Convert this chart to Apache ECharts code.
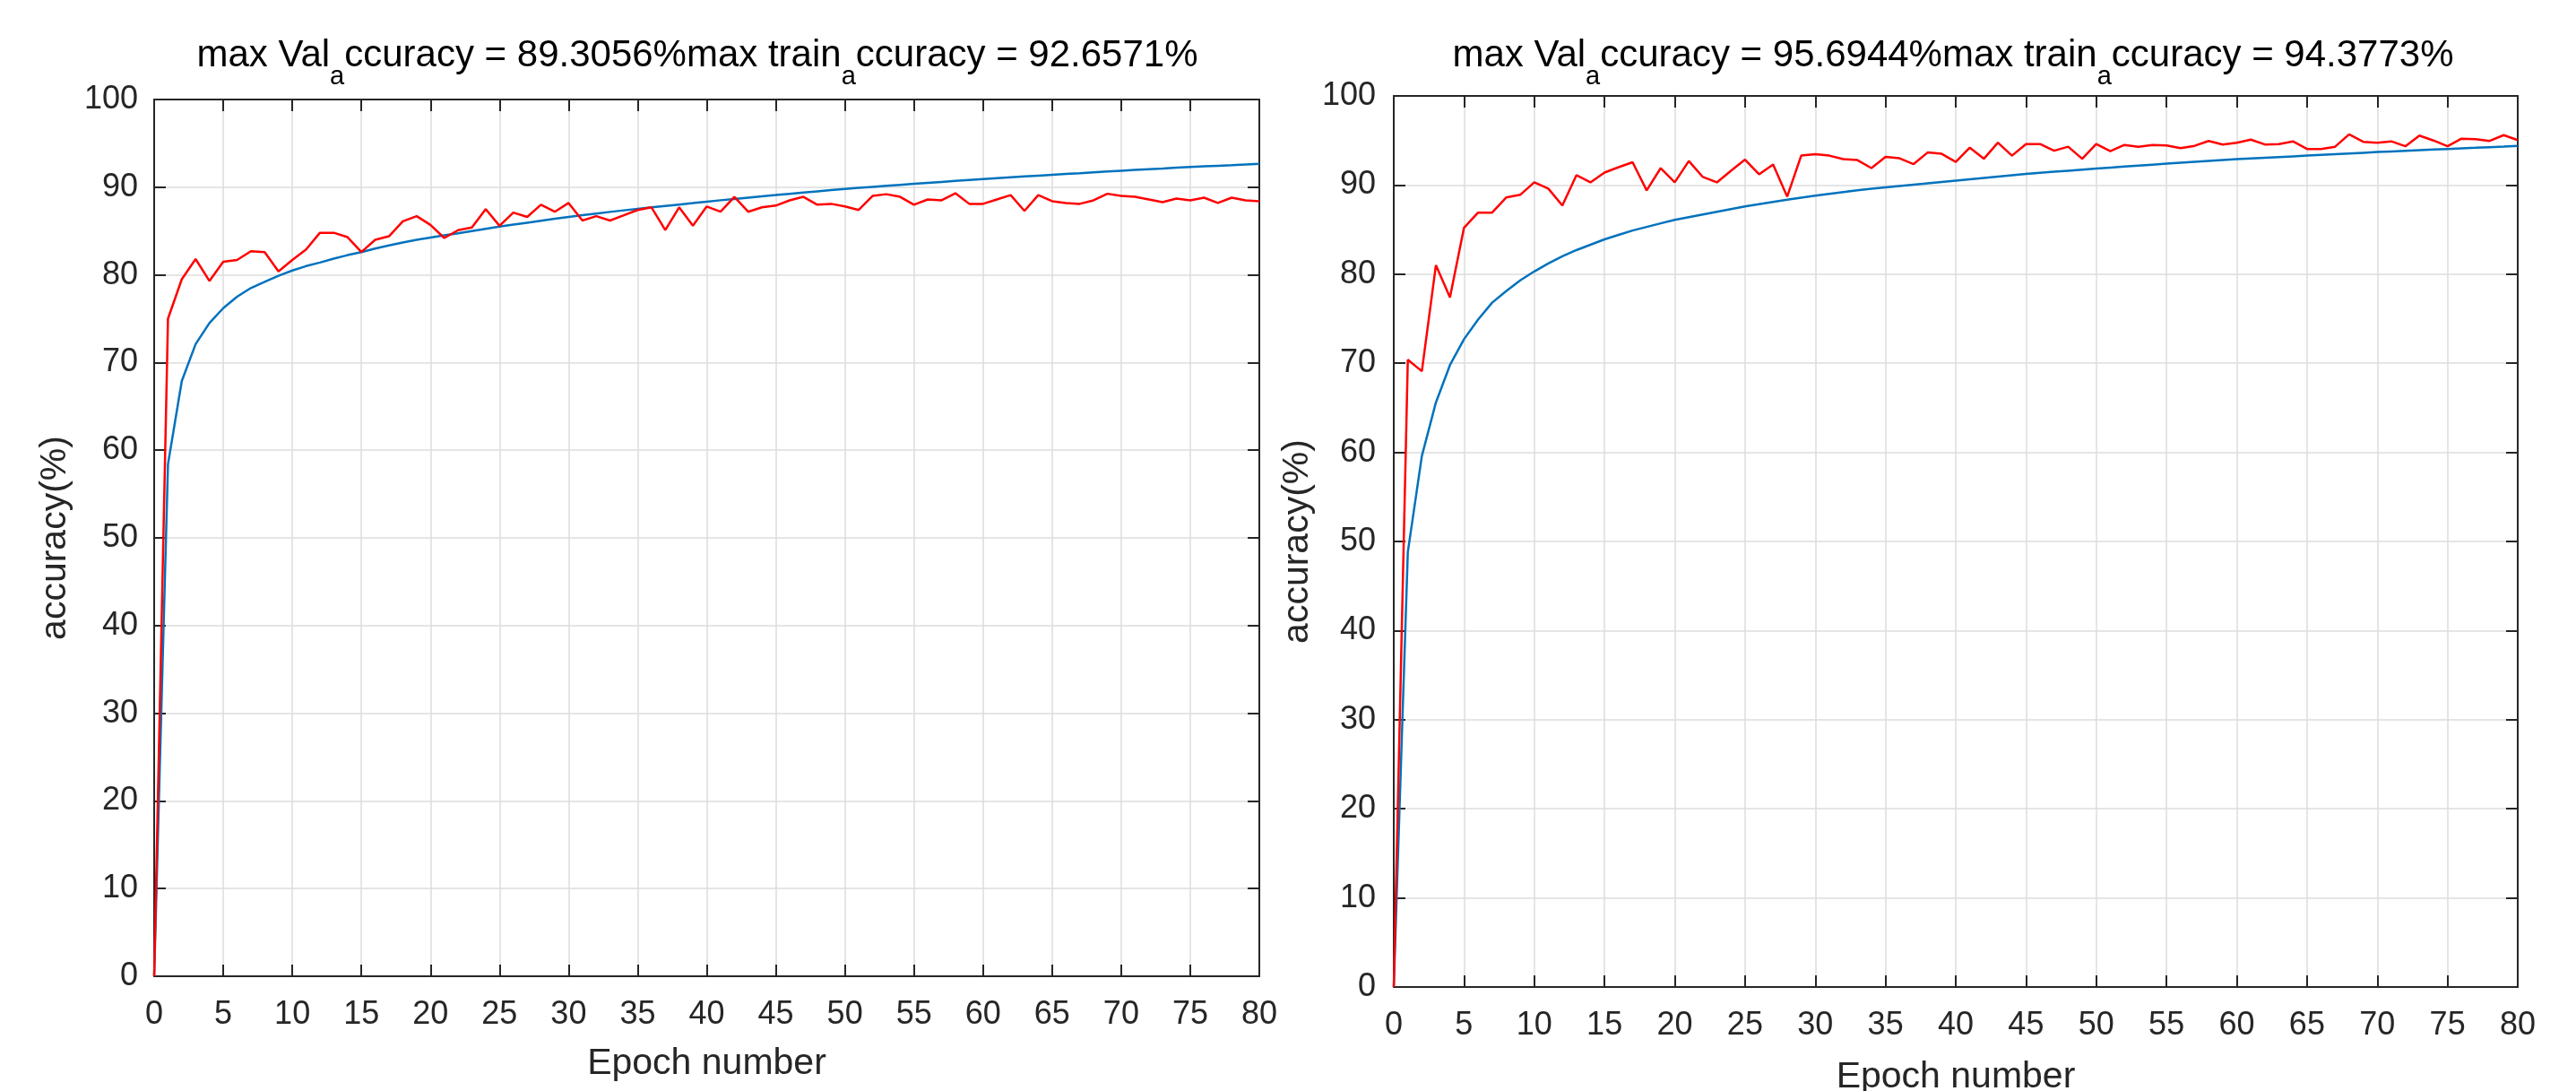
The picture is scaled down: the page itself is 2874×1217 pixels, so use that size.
<!DOCTYPE html>
<html>
<head>
<meta charset="utf-8">
<script src="https://cdn.jsdelivr.net/npm/echarts@6/dist/echarts.min.js"></script>
<style>
html,body{margin:0;padding:0;background:#fff;}
#chart{width:2874px;height:1217px;}
</style>
</head>
<body>
<div id="chart"></div>
<script>
// ---- data ----
const epochs = [0,1,2,3,4,5,6,7,8,9,10,11,12,13,14,15,16,17,18,19,20,21,22,23,24,25,26,27,28,29,30,31,32,33,34,35,36,37,38,39,40,41,42,43,44,45,46,47,48,49,50,51,52,53,54,55,56,57,58,59,60,61,62,63,64,65,66,67,68,69,70,71,72,73,74,75,76,77,78,79,80];

const leftVal = [0,75.0,79.5,81.8,79.3,81.5,81.7,82.7,82.6,80.4,81.7,82.9,84.8,84.8,84.3,82.6,84.0,84.4,86.1,86.7,85.7,84.2,85.1,85.4,87.5,85.6,87.1,86.6,88.0,87.2,88.2,86.2,86.7,86.2,86.8,87.4,87.7,85.1,87.7,85.6,87.8,87.2,88.9,87.2,87.7,87.9,88.5,88.9,88.0,88.1,87.8,87.4,89.0,89.2,88.9,88.0,88.6,88.5,89.31,88.1,88.1,88.6,89.1,87.3,89.1,88.4,88.2,88.1,88.5,89.25,89.0,88.9,88.6,88.3,88.7,88.5,88.8,88.2,88.8,88.5,88.4];

const leftTrain = [0,58.4,67.9,72.1,74.5,76.2,77.5,78.5,79.2,79.9,80.5,81.0,81.4,81.85,82.25,82.6,83.0,83.35,83.7,84.0,84.25,84.5,84.75,85.0,85.25,85.5,85.73,85.95,86.17,86.39,86.6,86.8,87.0,87.18,87.36,87.53,87.7,87.86,88.02,88.18,88.35,88.51,88.66,88.81,88.96,89.1,89.25,89.39,89.53,89.67,89.8,89.92,90.04,90.16,90.27,90.38,90.49,90.6,90.71,90.82,90.92,91.02,91.12,91.22,91.32,91.42,91.51,91.6,91.7,91.79,91.88,91.97,92.05,92.13,92.22,92.3,92.37,92.44,92.51,92.59,92.66];

const rightVal = [0,70.4,69.1,81.0,77.4,85.2,86.9,86.9,88.6,88.9,90.3,89.6,87.7,91.1,90.3,91.4,92.0,92.55,89.4,91.9,90.3,92.7,90.9,90.3,91.6,92.85,91.2,92.3,88.7,93.3,93.45,93.3,92.9,92.8,91.9,93.15,93.0,92.35,93.65,93.5,92.6,94.2,92.95,94.75,93.3,94.6,94.6,93.85,94.3,92.95,94.6,93.8,94.5,94.3,94.5,94.45,94.15,94.4,94.95,94.55,94.75,95.1,94.55,94.6,94.9,94.05,94.05,94.3,95.69,94.85,94.75,94.9,94.35,95.55,95.0,94.35,95.2,95.15,94.95,95.6,95.05];

const rightTrain = [0,48.8,59.6,65.6,69.8,72.7,74.9,76.8,78.1,79.3,80.3,81.2,82.0,82.7,83.3,83.9,84.4,84.9,85.3,85.7,86.1,86.4,86.7,87.0,87.3,87.6,87.85,88.1,88.35,88.58,88.8,89.0,89.2,89.4,89.58,89.75,89.9,90.05,90.2,90.35,90.5,90.65,90.8,90.95,91.1,91.25,91.37,91.49,91.61,91.73,91.85,91.96,92.07,92.18,92.29,92.4,92.5,92.6,92.7,92.8,92.9,92.98,93.06,93.14,93.22,93.3,93.38,93.46,93.54,93.62,93.7,93.77,93.84,93.91,93.98,94.05,94.12,94.18,94.25,94.31,94.38];

const leftTitle = ['max Val', 'a', 'ccuracy = 89.3056%max train', 'a', 'ccuracy = 92.6571%'];
const rightTitle = ['max Val', 'a', 'ccuracy = 95.6944%max train', 'a', 'ccuracy = 94.3773%'];
const xName = 'Epoch number';
const yName = 'accuracy(%)';

// ---- styling ----
const FONT = "'Liberation Sans', Arial, Helvetica, sans-serif";
const AX = '#262626';
const RED = '#ff0000';
const BLUE = '#0072bd';

function pairs(xs, ys){ return xs.map((x,i)=>[x, ys[i]]); }
function titleText(parts){
  return '{m|' + parts[0] + '}{s|' + parts[1] + '}{m|' + parts[2] + '}{s|' + parts[3] + '}{m|' + parts[4] + '}';
}
const richTitle = {
  m: {fontSize: 42, fontWeight: 'normal', fontFamily: FONT, color: '#000', lineHeight: 48, verticalAlign: 'top'},
  s: {fontSize: 29, fontWeight: 'normal', fontFamily: FONT, color: '#000', lineHeight: 29, verticalAlign: 'top', padding: [30, 0, 0, 0]}
};

const grids = [
  {left: 172, top: 111, width: 1233, height: 978, outerBoundsMode: 'none', containLabel: false},
  {left: 1555, top: 107, width: 1254, height: 994, outerBoundsMode: 'none', containLabel: false}
];
const cfg = [
  {xLabelMargin: 25, yLabelMargin: 18, xNameGap: 77, yNameGap: 90},
  {xLabelMargin: 25, yLabelMargin: 20, xNameGap: 80, yNameGap: 87}
];

const xAxes = [], yAxes = [];
grids.forEach((g, gi) => {
  const c = cfg[gi];
  const common = {type: 'value', gridIndex: gi, min: 0, max: 80, interval: 5};
  xAxes.push(Object.assign({}, common, {
    position: 'bottom',
    name: xName, nameLocation: 'middle', nameGap: c.xNameGap, nameMoveOverlap: false,
    nameTextStyle: {fontSize: 41, fontFamily: FONT, color: AX},
    axisLine: {show: true, onZero: false, lineStyle: {color: AX, width: 2}},
    axisTick: {show: true, inside: true, length: 13, lineStyle: {color: AX, width: 2}},
    axisLabel: {show: true, fontSize: 36, fontFamily: FONT, color: AX, margin: c.xLabelMargin, showMinLabel: true, showMaxLabel: true},
    splitLine: {show: true, lineStyle: {color: '#dcdcdc', width: 1.5}}
  }));
  xAxes.push(Object.assign({}, common, {
    position: 'top',
    axisLine: {show: true, onZero: false, lineStyle: {color: AX, width: 2}},
    axisTick: {show: true, inside: true, length: 13, lineStyle: {color: AX, width: 2}},
    axisLabel: {show: false},
    splitLine: {show: false}
  }));
  const ycommon = {type: 'value', gridIndex: gi, min: 0, max: 100, interval: 10};
  yAxes.push(Object.assign({}, ycommon, {
    position: 'left',
    name: yName, nameLocation: 'middle', nameGap: c.yNameGap, nameRotate: 90, nameMoveOverlap: false,
    nameTextStyle: {fontSize: 41, fontFamily: FONT, color: AX},
    axisLine: {show: true, onZero: false, lineStyle: {color: AX, width: 2}},
    axisTick: {show: true, inside: true, length: 13, lineStyle: {color: AX, width: 2}},
    axisLabel: {show: true, fontSize: 36, fontFamily: FONT, color: AX, margin: c.yLabelMargin, showMinLabel: true, showMaxLabel: true},
    splitLine: {show: true, lineStyle: {color: '#dcdcdc', width: 1.5}}
  }));
  yAxes.push(Object.assign({}, ycommon, {
    position: 'right',
    axisLine: {show: true, onZero: false, lineStyle: {color: AX, width: 2}},
    axisTick: {show: true, inside: true, length: 13, lineStyle: {color: AX, width: 2}},
    axisLabel: {show: false},
    splitLine: {show: false}
  }));
});

function lineSeries(data, color, gi){
  return {
    type: 'line', xAxisIndex: gi * 2, yAxisIndex: gi * 2,
    data: data, showSymbol: false, symbol: 'none', animation: false,
    lineStyle: {color: color, width: 2.5}, itemStyle: {color: color}, z: 3
  };
}

const option = {
  backgroundColor: '#fff',
  animation: false,
  title: [
    {text: titleText(leftTitle), left: 778, top: 41, textAlign: 'center', padding: 0, textStyle: {fontWeight: 'normal', rich: richTitle}},
    {text: titleText(rightTitle), left: 2179, top: 41, textAlign: 'center', padding: 0, textStyle: {fontWeight: 'normal', rich: richTitle}}
  ],
  grid: grids,
  xAxis: xAxes,
  yAxis: yAxes,
  series: [
    lineSeries(pairs(epochs, leftTrain), BLUE, 0),
    lineSeries(pairs(epochs, leftVal), RED, 0),
    lineSeries(pairs(epochs, rightTrain), BLUE, 1),
    lineSeries(pairs(epochs, rightVal), RED, 1)
  ]
};

const chart = echarts.init(document.getElementById('chart'));
chart.setOption(option);
</script>
</body>
</html>
